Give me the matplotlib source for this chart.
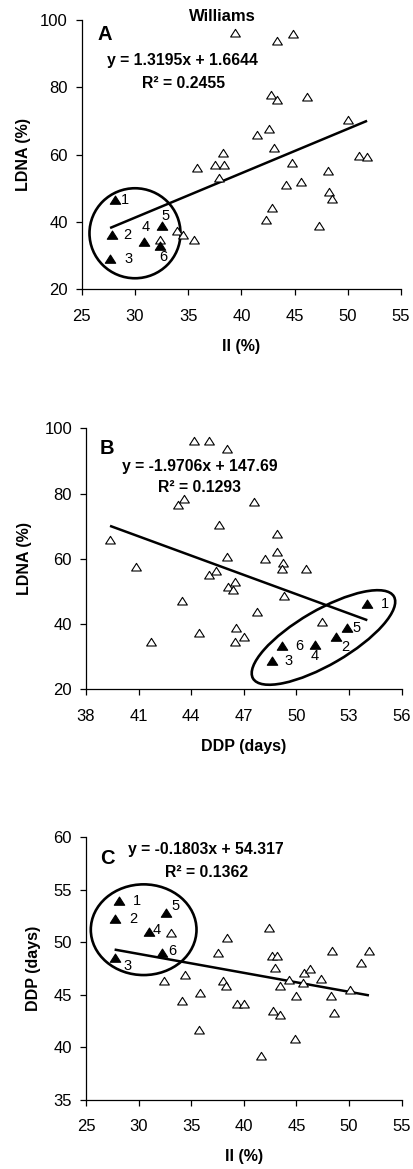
import matplotlib
matplotlib.use("Agg")
import matplotlib.pyplot as plt
from matplotlib.patches import Ellipse
from matplotlib.path import Path
from matplotlib.transforms import ScaledTranslation
import numpy as np

plt.rcParams['font.family'] = ['Liberation Sans', 'DejaVu Sans']

# ---------------- data ----------------
sel_labels = ['1', '2', '3', '4', '5', '6']

# Panel A: II (%) vs LDNA (%)
a_ii_open = [39.41, 44.89, 43.35, 42.76, 43.32, 46.17, 50.05, 41.44, 42.63, 43.07,
             38.25, 37.53, 38.40, 35.87, 37.93, 44.76, 44.17, 45.61, 51.09, 51.81,
             48.14, 48.27, 48.55, 42.91, 42.32, 47.30, 33.93, 34.49, 35.59, 32.36]
a_ldna_open = [96.2, 95.7, 93.9, 77.8, 76.1, 77.1, 70.3, 65.9, 67.7, 61.9,
               60.4, 56.9, 56.9, 55.9, 52.9, 57.4, 50.8, 51.7, 59.5, 59.3,
               55.1, 48.9, 46.7, 44.0, 40.5, 38.7, 37.3, 36.0, 34.7, 34.7]
a_ii_sel = [28.10, 27.85, 27.66, 30.89, 32.52, 32.36]
a_ldna_sel = [46.4, 36.0, 28.9, 33.9, 38.8, 32.7]

# Panel B: DDP (days) vs LDNA (%)
b_ddp_open = [44.18, 45.03, 46.06, 43.23, 43.59, 47.60, 39.37, 45.60, 48.89, 48.89,
              46.06, 48.21, 49.25, 49.15, 50.54, 40.83, 45.01, 45.41, 46.08, 46.50,
              46.40, 49.29, 43.49, 47.75, 51.44, 46.57, 44.42, 47.03, 46.52, 41.71]
b_ldna_open = [96.1, 96.1, 93.8, 76.4, 78.2, 77.3, 65.8, 70.4, 67.6, 62.0,
               60.7, 59.8, 58.8, 57.0, 57.0, 57.5, 55.2, 56.2, 51.3, 52.9,
               50.4, 48.7, 47.0, 43.8, 40.6, 38.7, 37.3, 35.9, 34.5, 34.5]
b_ddp_sel = [54.04, 52.26, 48.59, 51.04, 52.86, 49.20]
b_ldna_sel = [46.1, 36.0, 28.7, 33.6, 38.8, 33.3]

# Panel C: II (%) vs DDP (days)
c_ii_open = [42.42, 38.43, 33.05, 37.58, 42.65, 43.18, 42.99, 48.41, 51.89, 51.10,
             45.72, 46.29, 47.30, 44.32, 45.59, 43.44, 37.99, 38.28, 32.41, 34.44,
             35.83, 34.09, 39.38, 40.01, 44.98, 48.28, 50.09, 48.57, 42.80, 43.44,
             35.71, 44.82, 41.60]
c_ddp_open = [51.34, 50.45, 50.9, 49.0, 48.7, 48.7, 47.6, 49.2, 49.2, 48.0,
              47.1, 47.5, 46.5, 46.4, 46.1, 45.9, 46.3, 45.9, 46.3, 46.9,
              45.2, 44.4, 44.1, 44.1, 44.9, 44.9, 45.5, 43.3, 43.5, 43.1,
              41.7, 40.8, 39.2]
c_ii_sel = [28.17, 27.76, 27.72, 31.02, 32.57, 32.25]
c_ddp_sel = [53.9, 52.2, 48.5, 51.0, 52.8, 49.0]

# regression equations (as printed)
a_slope, a_icpt, a_r2 = 1.3195, 1.6644, 0.2455
b_slope, b_icpt, b_r2 = -1.9706, 147.69, 0.1293
c_slope, c_icpt, c_r2 = -0.1803, 54.317, 0.1362

a_xticks = [25, 30, 35, 40, 45, 50, 55]
a_yticks = [20, 40, 60, 80, 100]
b_xticks = [38, 41, 44, 47, 50, 53, 56]
b_yticks = [20, 40, 60, 80, 100]
c_xticks = [25, 30, 35, 40, 45, 50, 55]
c_yticks = [35, 40, 45, 50, 55, 60]

# ---------------- figure ----------------
fig = plt.figure(figsize=(4.13, 11.69), dpi=100)

tri = Path([(-1, -0.72), (1, -0.72), (0, 0.85), (-1, -0.72)],
           [Path.MOVETO, Path.LINETO, Path.LINETO, Path.CLOSEPOLY])
FS_TICK = 12
FS_LAB = 11.5
FS_EQ = 11.3


def setup(ax, xlim, ylim, xticks, yticks, xlabel, ylabel, ylab_x, xlab_y):
    ax.set_xlim(*xlim)
    ax.set_ylim(*ylim)
    ax.set_xticks(xticks)
    ax.set_yticks(yticks)
    for s in ['top', 'right']:
        ax.spines[s].set_visible(False)
    for s in ['left', 'bottom']:
        ax.spines[s].set_linewidth(0.9)
    ax.tick_params(axis='x', direction='out', length=4, width=0.9, pad=10, labelsize=FS_TICK)
    ax.tick_params(axis='y', direction='out', length=4, width=0.9, pad=6, labelsize=FS_TICK)
    ax.set_xlabel(xlabel, fontsize=FS_LAB, fontweight='bold')
    ax.set_ylabel(ylabel, fontsize=FS_LAB, fontweight='bold')
    ax.xaxis.label.set_va('center')
    ax.yaxis.label.set_va('center')
    ax.xaxis.set_label_coords(0.5, xlab_y)
    ax.yaxis.set_label_coords(ylab_x, 0.5)


def points(ax, xo, yo, xs, ys, offsets):
    ax.plot(xo, yo, linestyle='none', marker=tri, ms=7, mfc='white', mec='black',
            mew=0.8, zorder=3, clip_on=False)
    ax.plot(xs, ys, linestyle='none', marker=tri, ms=7.5, mfc='black', mec='black',
            mew=0.8, zorder=4, clip_on=False)
    for x, y, lab, (dx, dy) in zip(xs, ys, sel_labels, offsets):
        ax.annotate(lab, (x, y), xytext=(dx * 0.72, dy * 0.72), textcoords='offset points',
                    ha='center', va='center', fontsize=10.5, zorder=5)


def trend(ax, xall, slope, icpt):
    xx = np.array([min(xall), max(xall)])
    ax.plot(xx, slope * xx + icpt, color='black', lw=1.8, zorder=2, solid_capstyle='butt')


def ellipse(ax, cx, cy, wpx, hpx, angle):
    t = fig.dpi_scale_trans + ScaledTranslation(cx, cy, ax.transData)
    e = Ellipse((0, 0), wpx / 100, hpx / 100, angle=angle, transform=t,
                fill=False, ec='black', lw=1.9, zorder=2)
    ax.add_patch(e)


# ---- Panel A ----
axA = fig.add_axes([0.198, 0.7527, 0.773, 0.2302])
setup(axA, (25, 55), (20, 100), a_xticks, a_yticks, 'II (%)', 'LDNA (%)', -0.183, -0.215)
trend(axA, a_ii_open + a_ii_sel, a_slope, a_icpt)
ellipse(axA, 30.0, 36.6, 91, 90, 0)
points(axA, a_ii_open, a_ldna_open, a_ii_sel, a_ldna_sel,
       [(10, 0), (15, 0), (18, 0), (1, 15), (4, 10), (3, -11)])
axA.text(0.4416, 1.012, 'Williams', transform=axA.transAxes, ha='center', va='center',
         fontsize=12, fontweight='bold')
axA.text(0.073, 0.947, 'A', transform=axA.transAxes, ha='center', va='center',
         fontsize=14.5, fontweight='bold')
axA.text(0.316, 0.849, f'y = {a_slope}x + {a_icpt}', transform=axA.transAxes,
         ha='center', va='center', fontsize=FS_EQ, fontweight='bold')
axA.text(0.318, 0.765, f'R² = {a_r2}', transform=axA.transAxes,
         ha='center', va='center', fontsize=FS_EQ, fontweight='bold')

# ---- Panel B ----
axB = fig.add_axes([0.2082, 0.4103, 0.7644, 0.2233])
setup(axB, (38, 56), (20, 100), b_xticks, b_yticks, 'DDP (days)', 'LDNA (%)', -0.196, -0.218)
trend(axB, b_ddp_open + b_ddp_sel, b_slope, b_icpt)
ellipse(axB, 51.54, 35.9, 163, 54.5, 30.2)
points(axB, b_ddp_open, b_ldna_open, b_ddp_sel, b_ldna_sel,
       [(18, 0), (9, -10), (17, 0), (0, -11), (10, 0), (17, 0)])
axB.text(0.0675, 0.921, 'B', transform=axB.transAxes, ha='center', va='center',
         fontsize=14.5, fontweight='bold')
axB.text(0.361, 0.855, f'y = {b_slope}x + {b_icpt}', transform=axB.transAxes,
         ha='center', va='center', fontsize=FS_EQ, fontweight='bold')
axB.text(0.361, 0.772, f'R² = {b_r2}', transform=axB.transAxes,
         ha='center', va='center', fontsize=FS_EQ, fontweight='bold')

# ---- Panel C ----
axC = fig.add_axes([0.2082, 0.059, 0.7644, 0.2247])
setup(axC, (25, 55), (35, 60), c_xticks, c_yticks, 'II (%)', 'DDP (days)', -0.167, -0.216)
trend(axC, c_ii_open + c_ii_sel, c_slope, c_icpt)
ellipse(axC, 30.48, 51.21, 105.7, 90.7, 0)
points(axC, c_ii_open, c_ddp_open, c_ii_sel, c_ddp_sel,
       [(18, 0), (18, 0), (13, -8), (7, 2), (10, 7), (10, 2)])
axC.text(0.0675, 0.920, 'C', transform=axC.transAxes, ha='center', va='center',
         fontsize=14.5, fontweight='bold')
axC.text(0.380, 0.954, f'y = {c_slope}x + {c_icpt}', transform=axC.transAxes,
         ha='center', va='center', fontsize=FS_EQ, fontweight='bold')
axC.text(0.382, 0.865, f'R² = {c_r2}', transform=axC.transAxes,
         ha='center', va='center', fontsize=FS_EQ, fontweight='bold')

fig.savefig('out.png', dpi=100)
